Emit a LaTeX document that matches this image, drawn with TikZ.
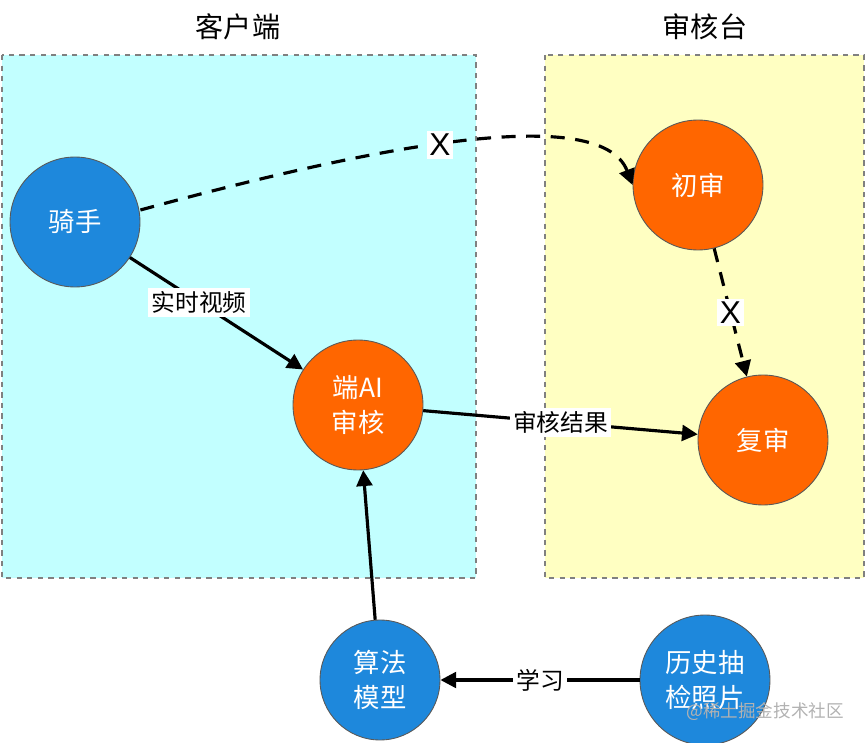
\documentclass[tikz,border=0pt]{standalone}
\usepackage{fontspec}
\setmainfont{Liberation Sans}
\newfontfamily\cjk{Noto Sans CJK SC}
\usetikzlibrary{arrows.meta}
\definecolor{cyanbg}{HTML}{C2FFFF}
\definecolor{yelbg}{HTML}{FFFFC2}
\definecolor{bluec}{HTML}{1E88DC}
\definecolor{orangec}{HTML}{FF6600}
\tikzset{
  panel/.style={draw=gray, dashed, line width=0.6pt},
  circ/.style={circle, draw=gray!70!black, line width=0.5pt, minimum size=2.6cm, inner sep=0pt, text=white, align=center, font=\cjk\fontsize{15}{20}\selectfont},
  bluen/.style={circ, fill=bluec},
  orangen/.style={circ, fill=orangec},
  conn/.style={line width=1.8pt, -{Triangle[length=9pt,width=9pt]}},
  dconn/.style={conn, dash pattern=on 8pt off 6pt},
  lbl/.style={fill=white, inner sep=2pt, text=black, font=\cjk\fontsize{13.5}{16}\selectfont},
  xlbl/.style={fill=white, inner sep=1.5pt, text=black, font=\fontsize{18}{20}\selectfont},
  title/.style={font=\cjk\fontsize{16}{18}\selectfont}
}
\begin{document}
\begin{tikzpicture}[x=0.02cm,y=-0.02cm]
\useasboundingbox (0,0) rectangle (866,743);
\fill[white] (0,0) rectangle (866,743);
\draw[panel, fill=cyanbg] (2,55) rectangle (476,578);
\draw[panel, fill=yelbg] (545,55) rectangle (864,578);
\node[title] (t1) at (238,27) {客户端};
\node[title] (t2) at (705,27) {审核台};
\node[bluen] (rider) at (75,222) {骑手};
\node[orangen] (first) at (698,185) {初审};
\node[orangen] (ai) at (358,405) {端AI\\审核};
\node[orangen] (second) at (763,440) {复审};
\node[bluen, minimum size=2.4cm] (algo) at (380,680) {算法\\模型};
\node[bluen] (hist) at (705,680) {历史抽\\检照片};
\draw[dconn] (rider.east) ++(0,-12) .. controls (360,150) and (600,100) .. (first.west) node[pos=0.47, xlbl] {X};
\draw[conn] (rider) -- (ai) node[pos=0.4, lbl] {实时视频};
\draw[dconn] (first) -- (second) node[midway, xlbl] {X};
\draw[conn] (ai) -- (second) node[midway, lbl] {审核结果};
\draw[conn] (algo) -- (ai);
\draw[conn] (hist) -- (algo) node[midway, lbl] {学习};
\node[text=gray!60, font=\cjk\fontsize{10}{12}\selectfont, anchor=east] (wm) at (850,712) {@稀土掘金技术社区};
\end{tikzpicture}
\end{document}
